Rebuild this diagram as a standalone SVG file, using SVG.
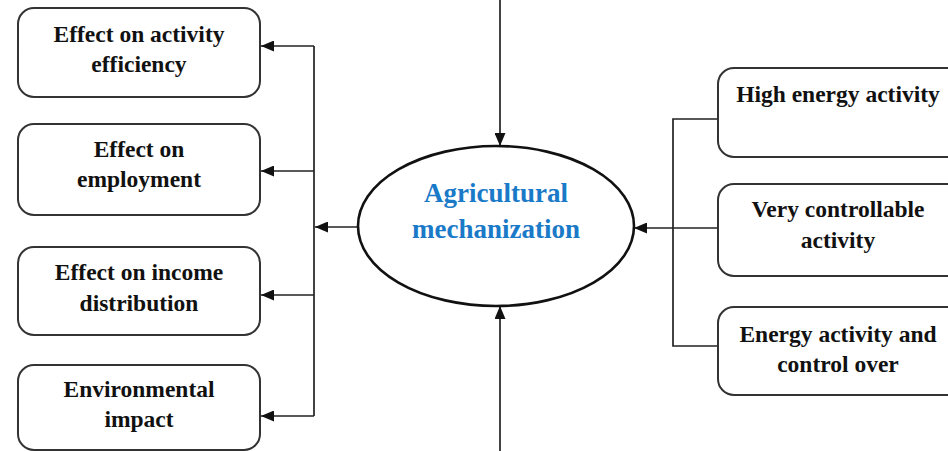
<svg xmlns="http://www.w3.org/2000/svg" width="948" height="451" viewBox="0 0 948 451">
<defs>
<style>
.box{fill:#fff;stroke:#333;stroke-width:2}
.t{font-family:"Liberation Serif","Times New Roman",serif;font-weight:bold;font-size:23.5px;fill:#111;text-anchor:middle}
.c{font-family:"Liberation Serif","Times New Roman",serif;font-weight:bold;font-size:27px;fill:#1a7ac8;text-anchor:middle}
.ln{fill:none;stroke:#222;stroke-width:1.7}
</style>
<marker id="ah" viewBox="0 0 13 11" refX="13" refY="5.5" markerWidth="13" markerHeight="11" markerUnits="userSpaceOnUse" orient="auto">
<path d="M0,0 L13,5.5 L0,11 Z" fill="#111"/>
</marker>
</defs>
<rect width="948" height="451" fill="#fff"/>

<g id="connectors">
<line class="ln" x1="500" y1="0" x2="500" y2="146" marker-end="url(#ah)"/>
<line class="ln" x1="500" y1="451" x2="500" y2="306" marker-end="url(#ah)"/>
<line class="ln" x1="357" y1="227" x2="315" y2="227" marker-end="url(#ah)"/>
<line class="ln" x1="314" y1="46" x2="314" y2="416"/>
<line class="ln" x1="314" y1="46" x2="261" y2="46" marker-end="url(#ah)"/>
<line class="ln" x1="314" y1="171" x2="261" y2="171" marker-end="url(#ah)"/>
<line class="ln" x1="314" y1="295" x2="261" y2="295" marker-end="url(#ah)"/>
<line class="ln" x1="314" y1="416" x2="261" y2="416" marker-end="url(#ah)"/>
<polyline class="ln" points="718,119 673,119 673,346 718,346"/>
<line class="ln" x1="718" y1="228" x2="634" y2="228" marker-end="url(#ah)"/>
</g>

<g id="center">
<ellipse cx="496" cy="226" rx="138" ry="80" fill="#fff" stroke="#111" stroke-width="2.6"/>
<text class="c" x="496" y="202">Agricultural</text>
<text class="c" x="496" y="238">mechanization</text>
</g>

<g id="efficiency">
<rect class="box" x="18" y="8" width="242" height="89" rx="16"/>
<text class="t" x="139" y="41.5">Effect on activity</text>
<text class="t" x="139" y="72">efficiency</text>
</g>
<g id="employment">
<rect class="box" x="18" y="124" width="242" height="91" rx="16"/>
<text class="t" x="139" y="157">Effect on</text>
<text class="t" x="139" y="187">employment</text>
</g>
<g id="income">
<rect class="box" x="18" y="247" width="242" height="88" rx="16"/>
<text class="t" x="139" y="280">Effect on income</text>
<text class="t" x="139" y="311">distribution</text>
</g>
<g id="environment">
<rect class="box" x="18" y="365" width="242" height="85" rx="16"/>
<text class="t" x="139" y="397">Environmental</text>
<text class="t" x="139" y="427">impact</text>
</g>

<g id="high-energy">
<rect class="box" x="718" y="68" width="250" height="89" rx="16"/>
<text class="t" x="838" y="102">High energy activity</text>
</g>
<g id="controllable">
<rect class="box" x="718" y="184" width="250" height="92" rx="16"/>
<text class="t" x="838" y="217">Very controllable</text>
<text class="t" x="838" y="248">activity</text>
</g>
<g id="energy-control">
<rect class="box" x="718" y="307" width="250" height="88" rx="16"/>
<text class="t" x="838" y="342">Energy activity and</text>
<text class="t" x="838" y="372">control over</text>
</g>
</svg>
